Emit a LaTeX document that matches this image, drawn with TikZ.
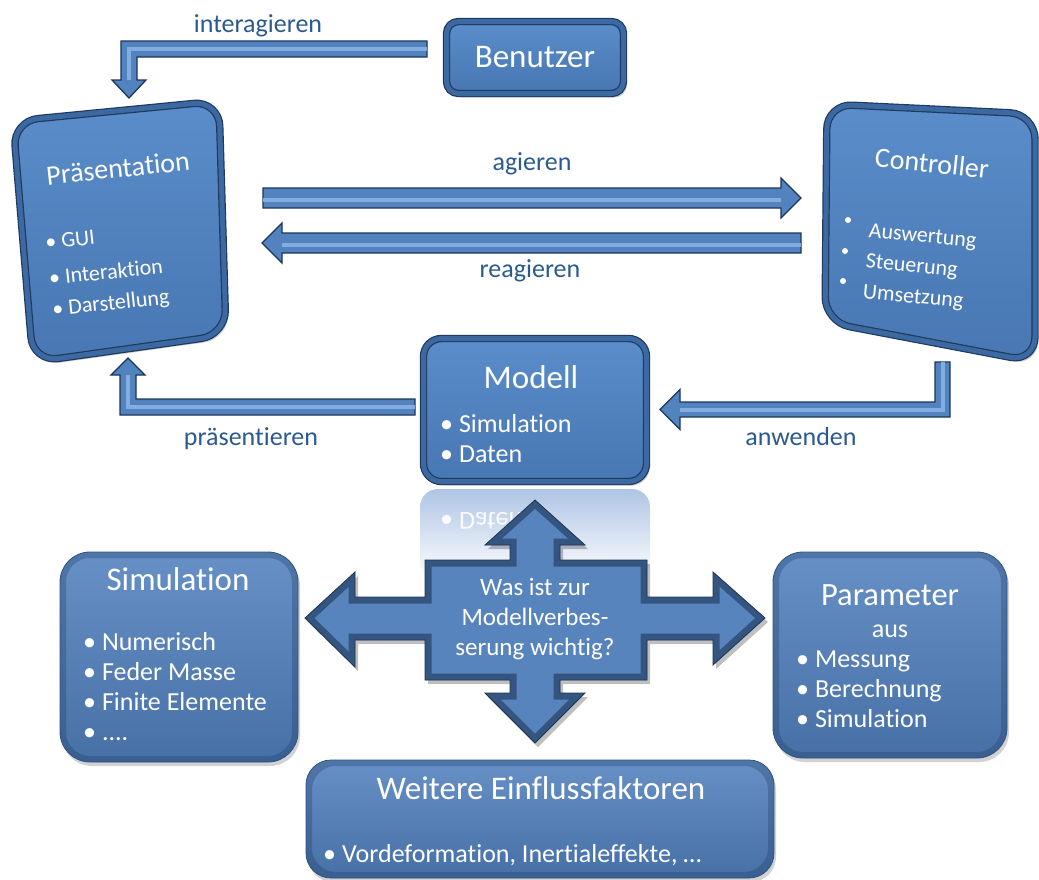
\documentclass[tikz,border=0pt]{standalone}
\usepackage{fontspec}
\setmainfont{Carlito}[Ligatures=NoCommon]
\usetikzlibrary{calc,shadows,fadings}
\definecolor{boxtop}{HTML}{5A8DCA}
\definecolor{boxbot}{HTML}{4877B2}
\definecolor{rim}{HTML}{3C69A1}
\definecolor{rimdark}{HTML}{1E3A5F}
\definecolor{lbl}{HTML}{2B5A8F}
\definecolor{arrfill}{HTML}{5283BF}
\definecolor{arredge}{HTML}{1B365A}
\definecolor{arrlight}{HTML}{8CB5E6}
\definecolor{softtop}{HTML}{6690C6}
\definecolor{softbot}{HTML}{4670A6}
\definecolor{softedge}{HTML}{2E5384}
\definecolor{crossfill}{HTML}{5884BD}
\definecolor{crossedge}{HTML}{34557F}
\definecolor{crossline}{HTML}{1E3556}
\definecolor{refl}{HTML}{AFC5E4}
\newcommand\setfs[1]{\fontsize{#1}{#1}\selectfont}
% straight horizontal fat arrow: tail, tip, half shaft, half head, head length
\newcommand\hfat[5]{%
  \path[fatarrow] let \p1=(#1),\p2=(#2),\n1={ifthenelse(\x2>\x1,1,-1)} in
    (\x1,{\y2+#3pt}) -- ({\x2-(\n1)*#5pt},{\y2+#3pt}) -- ({\x2-(\n1)*#5pt},{\y2+#4pt})
    -- (\x2,\y2) -- ({\x2-(\n1)*#5pt},{\y2-#4pt}) -- ({\x2-(\n1)*#5pt},{\y2-#3pt})
    -- (\x1,{\y2-#3pt}) -- cycle;
  \draw[stripe] let \p1=(#1),\p2=(#2),\n1={ifthenelse(\x2>\x1,1,-1)} in
    (\x1,{\y2-2pt}) -- ({\x2-(\n1)*#5pt},{\y2-2pt});}
% elbow arrow, horizontal first then vertical
\newcommand\hvfat[5]{%
  \path[fatarrow] let \p1=(#1),\p2=(#2),\n1={ifthenelse(\x2>\x1,1,-1)},\n2={ifthenelse(\y2>\y1,1,-1)} in
    (\x1,{\y1-(\n2)*#3pt}) -- ({\x2+(\n1)*#3pt},{\y1-(\n2)*#3pt})
    -- ({\x2+(\n1)*#3pt},{\y2-(\n2)*#5pt}) -- ({\x2+(\n1)*#4pt},{\y2-(\n2)*#5pt})
    -- (\x2,\y2) -- ({\x2-(\n1)*#4pt},{\y2-(\n2)*#5pt}) -- ({\x2-(\n1)*#3pt},{\y2-(\n2)*#5pt})
    -- ({\x2-(\n1)*#3pt},{\y1+(\n2)*#3pt}) -- (\x1,{\y1+(\n2)*#3pt}) -- cycle;
  \draw[stripe] let \p1=(#1),\p2=(#2),\n2={ifthenelse(\y2>\y1,1,-1)} in
    (\x1,\y1) -- (\x2,\y1) -- (\x2,{\y2-(\n2)*#5pt});}
% elbow arrow, vertical first then horizontal
\newcommand\vhfat[5]{%
  \path[fatarrow] let \p1=(#1),\p2=(#2),\n1={ifthenelse(\x2>\x1,1,-1)},\n2={ifthenelse(\y2>\y1,1,-1)} in
    ({\x1-(\n1)*#3pt},\y1) -- ({\x1-(\n1)*#3pt},{\y2+(\n2)*#3pt})
    -- ({\x2-(\n1)*#5pt},{\y2+(\n2)*#3pt}) -- ({\x2-(\n1)*#5pt},{\y2+(\n2)*#4pt})
    -- (\x2,\y2) -- ({\x2-(\n1)*#5pt},{\y2-(\n2)*#4pt}) -- ({\x2-(\n1)*#5pt},{\y2-(\n2)*#3pt})
    -- ({\x1+(\n1)*#3pt},{\y2-(\n2)*#3pt}) -- ({\x1+(\n1)*#3pt},\y1) -- cycle;
  \draw[stripe] let \p1=(#1),\p2=(#2),\n1={ifthenelse(\x2>\x1,1,-1)} in
    (\x1,\y1) -- (\x1,\y2) -- ({\x2-(\n1)*#5pt},\y2);}
\begin{document}
\begin{tikzpicture}[x=1pt,y=-1pt,
  fatarrow/.style={fill=arrfill, draw=arredge, line width=1.3pt, line join=miter},
  stripe/.style={draw=arrlight, line width=4pt, line join=miter, opacity=.85},
  lbltext/.style={text=lbl, inner sep=0pt, anchor=base, font=\setfs{26}},
  wt/.style={text=white, inner sep=0pt},
  wb/.style={text=white, inner sep=0pt, anchor=base west},
  bevelbox/.style={draw=rimdark, double=rim, double distance=5pt, line width=1.2pt,
    top color=boxtop, bottom color=boxbot,
    drop shadow={shadow xshift=3pt, shadow yshift=-4pt, opacity=.4}},
  softbox/.style={rectangle, rounded corners=30pt, draw=softedge, line width=.8pt,
    top color=softtop, bottom color=softbot,
    drop shadow={shadow xshift=2pt, shadow yshift=-4pt, opacity=.35},
    path picture={\draw[rimdark, opacity=.3, line width=12pt, rounded corners=30pt]
      (path picture bounding box.south west) rectangle (path picture bounding box.north east);}},
]
\useasboundingbox (0,0) rectangle (1039,879);
\fill[white] (0,0) rectangle (1039,879);

% ---------- top boxes ----------
\node[bevelbox, rectangle, rounded corners=12pt, minimum width=177pt, minimum height=72pt,
  wt, font=\setfs{33}] (ben) at (535,57.5) {Benutzer};

\path[bevelbox, rounded corners=25pt] (13,121) -- (219,101) -- (226,335) -- (33,362) -- cycle;
\node[wt, rotate=6, font=\setfs{28}] (praes) at (118,168) {Präsentation};
\node[wt, rotate=6, anchor=north west, align=left, font=\fontsize{22}{31}\selectfont]
  (plist) at (44.5,235) {• GUI\\[5pt]• Interaktion\\• Darstellung};

\path[bevelbox, rounded corners=25pt] (827,104) -- (1035,114) -- (1035,362) -- (825,322) -- cycle;
\node[wt, rotate=-6, font=\setfs{28}] (contr) at (932,163) {Controller};
\fill[white] (848,220) circle (3pt) (845,251) circle (3pt) (843,281) circle (3pt);
\node[wt, rotate=-5.5, anchor=north west, align=left, font=\fontsize{22}{30.6}\selectfont]
  (clist) at (869.5,223) {Auswertung\\Steuerung\\Umsetzung};

\node[bevelbox, rectangle, rounded corners=18pt, minimum width=223pt, minimum height=143pt] (modell) at (535,410) {};
\node[wt, font=\setfs{33}] (mt) at (531,377) {Modell};
\node[wb, font=\setfs{26}] (m1) at (440,432) {• Simulation};
\node[wb, font=\setfs{26}] (m2) at (440,462) {• Daten};

% ---------- arrows ----------
\coordinate (iaT) at (427,49);   \coordinate (iaE) at (129,98);
\coordinate (agT) at (263,198);  \coordinate (agE) at (801,198);
\coordinate (reT) at (801,243);  \coordinate (reE) at (262,243);
\coordinate (prT) at (415,407);  \coordinate (prE) at (128,358);
\coordinate (anT) at (942.5,362);\coordinate (anE) at (660,409.5);
\hvfat{iaT}{iaE}{8}{17}{18}
\hfat{agT}{agE}{10}{20}{20}
\hfat{reT}{reE}{10}{20}{20}
\hvfat{prT}{prE}{8}{17}{17}
\vhfat{anT}{anE}{7.5}{20}{20}

\node[lbltext] (l1) at (258,32) {interagieren};
\node[lbltext] (l2) at (532,170) {agieren};
\node[lbltext] (l3) at (530,277) {reagieren};
\node[lbltext] (l4) at (251,445) {präsentieren};
\node[lbltext] (l5) at (801,445) {anwenden};

% ---------- reflection of the model box ----------
\path[top color=refl, bottom color=white, rounded corners=18pt] (420,489) rectangle (650,580);
\node[wt, anchor=west, font=\setfs{26}, opacity=.9] (refl) at (440,521) {\scalebox{1}[-1]{• Daten}};

% ---------- central cross ----------
\coordinate (q) at (535,618);
\def\crosspath{(0,-118) -- (50,-73) -- (25,-73) -- (25,-58) -- (112,-58) -- (112,-21)
  -- (178,-21) -- (178,-46) -- (230,0) -- (178,47) -- (178,22) -- (112,22) -- (112,62)
  -- (25,62) -- (25,75) -- (50,75) -- (0,125) -- (-50,75) -- (-25,75) -- (-25,62)
  -- (-110,62) -- (-110,22) -- (-180,22) -- (-180,49) -- (-230,0) -- (-180,-46)
  -- (-180,-21) -- (-110,-21) -- (-110,-58) -- (-25,-58) -- (-25,-73) -- (-50,-73) -- cycle}
\begin{scope}[shift={(q)}]
  \fill[black, opacity=.25, shift={(3,4)}] \crosspath;
  \fill[crossfill] \crosspath;
  \begin{scope}
    \clip \crosspath;
    \draw[crossedge, line width=13pt, line join=miter] \crosspath;
  \end{scope}
  \draw[crossline, line width=.8pt, line join=miter] \crosspath;
\end{scope}
\node[wt, align=center, font=\fontsize{25}{30}\selectfont] (qt) at (535,619)
  {Was ist zur\\Modellverbes-\\serung wichtig?};

% ---------- bottom boxes ----------
\node[softbox, minimum width=238pt, minimum height=210pt] (sim) at (179,657) {};
\node[wt, anchor=base, font=\setfs{33}] (st) at (178,590) {Simulation};
\node[wb, font=\setfs{26}] (s1) at (83,650) {• Numerisch};
\node[wb, font=\setfs{26}] (s2) at (83,680) {• Feder Masse};
\node[wb, font=\setfs{26}] (s3) at (83,710) {• Finite Elemente};
\node[wb, font=\setfs{26}] (s4) at (83,740) {• ....};

\node[softbox, minimum width=234pt, minimum height=206pt] (par) at (890,655) {};
\node[wt, anchor=base, font=\setfs{32.5}] (pt) at (890,605) {Parameter};
\node[wt, anchor=base, font=\setfs{26}] (pa) at (890,637) {aus};
\node[wb, font=\setfs{26}] (q1) at (796,667) {• Messung};
\node[wb, font=\setfs{26}] (q2) at (796,697) {• Berechnung};
\node[wb, font=\setfs{26}] (q3) at (796,727) {• Simulation};

\node[softbox, rounded corners=25pt, minimum width=468pt, minimum height=118pt] (wei) at (540,819) {};
\node[wt, anchor=base, font=\setfs{33}] (wt1) at (541,799) {Weitere Einflussfaktoren};
\node[wb, font=\setfs{26}] (wt2) at (323,862) {• Vordeformation, Inertialeffekte, …};
\end{tikzpicture}
\end{document}
